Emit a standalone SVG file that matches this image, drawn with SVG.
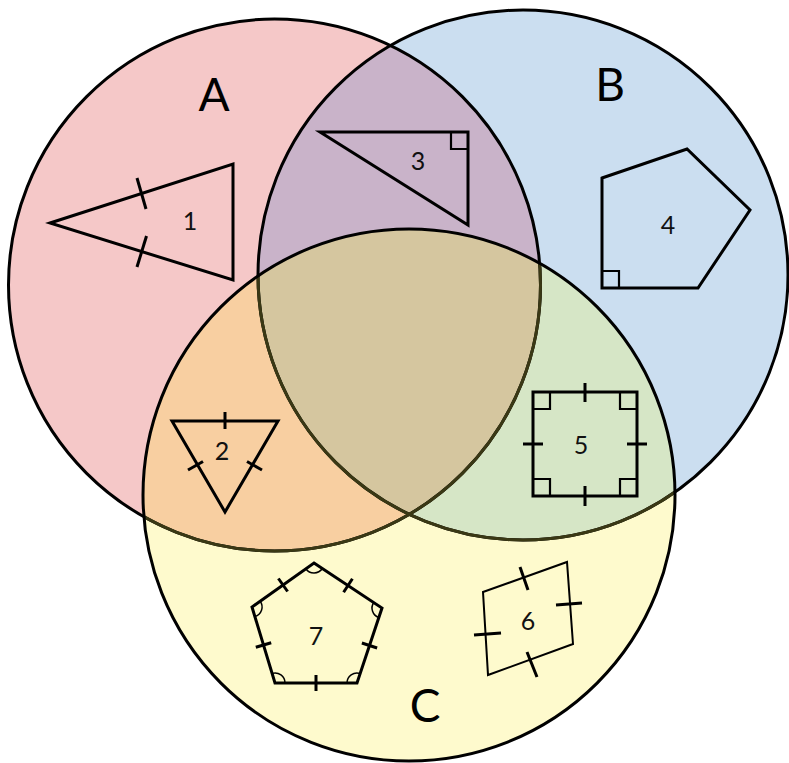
<svg xmlns="http://www.w3.org/2000/svg" width="789" height="763" viewBox="0 0 789 763">
  <defs>
    <style>
      .ring { fill: none; stroke: #000; stroke-width: 3; }
      .ring-in { fill: none; stroke: #3a3814; stroke-width: 3; }
      .shape { fill: none; stroke: #000; stroke-width: 3; stroke-linejoin: miter; }
      .thin { fill: none; stroke: #000; stroke-width: 2; }
      .mark { fill: none; stroke: #000; stroke-width: 3; }
      .arc { fill: none; stroke: #000; stroke-width: 1.5; }
      .sq { fill: none; stroke: #000; stroke-width: 2.2; }
      .set { font-family: Lato, "Open Sans", "Liberation Sans", sans-serif; font-size: 46px; fill: #000; text-anchor: middle; }
      .num { font-family: Lato, "Open Sans", "Liberation Sans", sans-serif; font-size: 25px; fill: #111; text-anchor: middle; }
    </style>
    <clipPath id="clipA"><circle cx="274.5" cy="285" r="266"/></clipPath>
    <clipPath id="clipB"><circle cx="523" cy="275" r="265"/></clipPath>
    <clipPath id="clipC"><circle cx="409" cy="495" r="266"/></clipPath>
  </defs>

  <!-- region fills -->
  <g id="fills">
    <circle cx="274.5" cy="285" r="266" fill="#F5C8C8"/>
    <circle cx="523" cy="275" r="265" fill="#CBDEF0"/>
    <circle cx="409" cy="495" r="266" fill="#FEFACD"/>
    <!-- A and B -->
    <circle cx="523" cy="275" r="265" fill="#C9B3C9" clip-path="url(#clipA)"/>
    <!-- A and C -->
    <circle cx="409" cy="495" r="266" fill="#F8CFA1" clip-path="url(#clipA)"/>
    <!-- B and C -->
    <circle cx="409" cy="495" r="266" fill="#D6E6C6" clip-path="url(#clipB)"/>
    <!-- A, B and C -->
    <g clip-path="url(#clipA)">
      <circle cx="409" cy="495" r="266" fill="#D5C69F" clip-path="url(#clipB)"/>
    </g>
  </g>

  <!-- set outlines -->
  <g id="outlines">
    <circle class="ring" cx="274.5" cy="285" r="266"/>
    <circle class="ring" cx="523" cy="275" r="265"/>
    <g clip-path="url(#clipC)">
      <circle class="ring-in" cx="274.5" cy="285" r="266"/>
      <circle class="ring-in" cx="523" cy="275" r="265"/>
    </g>
    <circle class="ring" cx="409" cy="495" r="266"/>
  </g>

  <!-- set labels -->
  <g id="set-A"><text class="set" x="214" y="111">A</text></g>
  <g id="set-B"><text class="set" x="610" y="101">B</text></g>
  <g id="set-C"><text class="set" x="425" y="722">C</text></g>

  <!-- 1: isosceles triangle -->
  <g id="shape-1">
    <polygon class="shape" points="50,223 233,164 233,280"/>
    <line class="mark" x1="137" y1="178" x2="146" y2="209"/>
    <line class="mark" x1="146.5" y1="236" x2="137" y2="267"/>
    <text class="num" x="190" y="230">1</text>
  </g>

  <!-- 2: equilateral triangle -->
  <g id="shape-2">
    <polygon class="shape" points="172,421 278,421 225,512"/>
    <line class="mark" x1="225" y1="412" x2="225" y2="429"/>
    <line class="mark" x1="188" y1="470" x2="203" y2="461.5"/>
    <line class="mark" x1="247" y1="461.5" x2="262" y2="470"/>
    <text class="num" x="222" y="460">2</text>
  </g>

  <!-- 3: right triangle -->
  <g id="shape-3">
    <polygon class="shape" points="320,132 468,132 468,225"/>
    <polyline class="sq" points="451,132 451,149 468,149"/>
    <text class="num" x="418" y="170">3</text>
  </g>

  <!-- 4: pentagon with one right angle -->
  <g id="shape-4">
    <polygon class="shape" points="602,178 687,149 750,210 698,288 602,288"/>
    <polyline class="sq" points="602,271 619,271 619,288"/>
    <text class="num" x="668" y="234">4</text>
  </g>

  <!-- 5: square -->
  <g id="shape-5">
    <rect class="shape" x="533" y="392" width="104" height="104"/>
    <polyline class="sq" points="533,409 550,409 550,392"/>
    <polyline class="sq" points="620,392 620,409 637,409"/>
    <polyline class="sq" points="533,479 550,479 550,496"/>
    <polyline class="sq" points="620,496 620,479 637,479"/>
    <line class="mark" x1="585" y1="383" x2="585" y2="402"/>
    <line class="mark" x1="585" y1="486" x2="585" y2="506"/>
    <line class="mark" x1="523" y1="444" x2="543" y2="444"/>
    <line class="mark" x1="627" y1="444" x2="647" y2="444"/>
    <text class="num" x="581" y="454">5</text>
  </g>

  <!-- 6: rhombus -->
  <g id="shape-6">
    <polygon class="thin" points="483,592 567,562 573,644 488,675"/>
    <line class="mark" x1="520" y1="567" x2="528" y2="590"/>
    <line class="mark" x1="556" y1="605" x2="582" y2="603"/>
    <line class="mark" x1="474" y1="635" x2="501" y2="633"/>
    <line class="mark" x1="527" y1="652" x2="537" y2="677"/>
    <text class="num" x="528" y="630">6</text>
  </g>

  <!-- 7: regular pentagon -->
  <g id="shape-7">
    <polygon class="shape" points="314,563 382,608 357,683 275,683 252,607"/>
    <path class="arc" d="M305.8,568.8 A10,10 0 0 0 322.3,568.5"/>
    <path class="arc" d="M260.2,601.2 A10,10 0 0 1 254.9,616.6"/>
    <path class="arc" d="M373.7,602.5 A10,10 0 0 0 378.8,617.5"/>
    <path class="arc" d="M360.2,673.5 A10,10 0 0 0 347,683"/>
    <path class="arc" d="M272.1,673.4 A10,10 0 0 1 285,683"/>
    <line class="mark" x1="278.4" y1="578.5" x2="287.6" y2="591.5"/>
    <line class="mark" x1="352.4" y1="578.8" x2="343.6" y2="592.2"/>
    <line class="mark" x1="361.9" y1="643" x2="377.1" y2="648"/>
    <line class="mark" x1="255.8" y1="647.3" x2="271.2" y2="642.7"/>
    <line class="mark" x1="316" y1="675" x2="316" y2="691"/>
    <text class="num" x="316" y="645">7</text>
  </g>
</svg>
